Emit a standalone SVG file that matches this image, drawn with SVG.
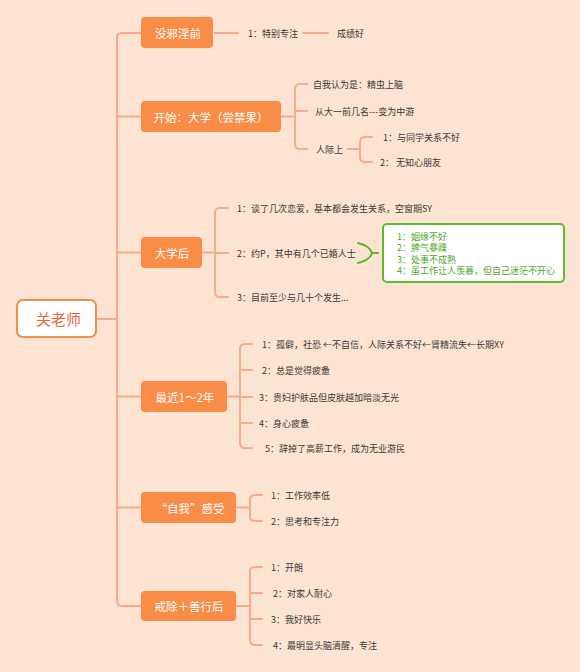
<svg xmlns="http://www.w3.org/2000/svg" width="580" height="672" viewBox="0 0 580 672">
<style>
.bg{fill:#FDE3D1}
.con{fill:none;stroke:#F5AC8C;stroke-width:2;stroke-linecap:round}
.br{fill:#F98C47}
.bt{fill:#fff;font-family:"Noto Sans CJK SC","Noto Sans",sans-serif;font-size:11.5px;text-anchor:middle;dominant-baseline:central}
.t{fill:#3a3a3a;font-family:"Noto Sans CJK SC","Noto Sans",sans-serif;font-size:9px;dominant-baseline:central}
.g{fill:#4FA82A;font-family:"Noto Sans CJK SC","Noto Sans",sans-serif;font-size:9px;dominant-baseline:central}
</style>
<rect class="bg" x="0" y="0" width="580" height="672"/>
<g id="connectors">
<path class="con" d="M96,319 H117"/>
<path class="con" d="M141,33 H122 Q117,33 117,38 V601 Q117,606 122,606 H141"/>
<path class="con" d="M117,116.5 H141 M117,252.5 H141 M117,396.5 H141 M117,507.5 H141"/>
<path class="con" d="M215,33 H238 M303,33 H328"/>
<path class="con" d="M281,116.5 H295 M307,84 H300 Q295,84 295,89 V144 Q295,149 300,149 H307 M295,111 H307"/>
<path class="con" d="M348,149 H360 M372,137 H365 Q360,137 360,142 V157 Q360,162 365,162 H372"/>
<path class="con" d="M202,252.5 H215 M228,208 H220 Q215,208 215,213 V292 Q215,297 220,297 H228 M215,253 H228"/>
<path class="con" d="M227,396.5 H240 M252,344 H245 Q240,344 240,349 V443 Q240,448 245,448 H252 M240,370 H252 M240,397 H252 M240,423 H252"/>
<path class="con" d="M236,507.5 H250 M262,495 H255 Q250,495 250,500 V516 Q250,521 255,521 H262"/>
<path class="con" d="M236,606 H250 M262,567 H255 Q250,567 250,572 V640 Q250,645 255,645 H262 M250,593 H262 M250,619 H262"/>
<path d="M358,243 Q370,246 372,253 Q370,260 358,263 M372,253 H378" fill="none" stroke="#5DB82C" stroke-width="2" stroke-linecap="round"/>
</g>
<g id="root">
<rect x="17" y="300" width="79" height="37" rx="6" fill="#fff" stroke="#F0904E" stroke-width="2"/>
<text x="58.5" y="318.5" fill="#E8683A" font-family="'Noto Sans CJK SC','Noto Sans',sans-serif" font-size="15" text-anchor="middle" dominant-baseline="central">关老师</text>
</g>
<g id="n1">
<rect class="br" x="141" y="17" width="72" height="31" rx="4"/>
<text class="bt" x="178" y="32.5">没邪淫前</text>
<text class="t" x="248" y="33">1：特别专注</text>
<text class="t" x="337" y="33">成绩好</text>
</g>
<g id="n2">
<rect class="br" x="141" y="101" width="140" height="31" rx="4"/>
<text class="bt" x="211" y="116.5">开始：大学（尝禁果）</text>
<text class="t" x="313" y="84">自我认为是：精虫上脑</text>
<text class="t" x="315" y="111">从大一前几名---变为中游</text>
<text class="t" x="316" y="149">人际上</text>
<text class="t" x="383" y="137">1：与同学关系不好</text>
<text class="t" x="380" y="162">2： 无知心朋友</text>
</g>
<g id="n3">
<rect class="br" x="141" y="237" width="61" height="31" rx="4"/>
<text class="bt" x="172" y="252.5">大学后</text>
<text class="t" x="237" y="208">1：谈了几次恋爱，基本都会发生关系，空窗期SY</text>
<text class="t" x="237" y="253">2：约P，其中有几个已婚人士</text>
<text class="t" x="237" y="297">3：目前至少与几十个发生...</text>
</g>
<g id="n3g">
<rect x="383" y="224" width="181" height="58" rx="4" fill="#fff" stroke="#5DBB2E" stroke-width="2"/>
<text class="g" x="397" y="236">1：姻缘不好</text>
<text class="g" x="397" y="247.5">2：脾气暴躁</text>
<text class="g" x="397" y="259">3：处事不成熟</text>
<text class="g" x="397" y="270.5">4：虽工作让人羡慕，但自己迷茫不开心</text>
</g>
<g id="n4">
<rect class="br" x="141" y="381" width="86" height="31" rx="4"/>
<text class="bt" x="185" y="396.5">最近1～2年</text>
<text class="t" x="262" y="344">1：孤僻，社恐 ←不自信，人际关系不好←肾精流失←长期XY</text>
<text class="t" x="262" y="370">2：总是觉得疲惫</text>
<text class="t" x="259" y="397">3：贵妇护肤品但皮肤越加暗淡无光</text>
<text class="t" x="259" y="423">4：身心疲惫</text>
<text class="t" x="265" y="448">5：辞掉了高薪工作，成为无业游民</text>
</g>
<g id="n5">
<rect class="br" x="141" y="492" width="95" height="31" rx="4"/>
<text class="bt" x="190" y="507.5">“自我”感受</text>
<text class="t" x="271" y="495">1：工作效率低</text>
<text class="t" x="271" y="521">2：思考和专注力</text>
</g>
<g id="n6">
<rect class="br" x="141" y="591" width="95" height="30" rx="4"/>
<text class="bt" x="189" y="606">戒除＋善行后</text>
<text class="t" x="271" y="567">1：开朗</text>
<text class="t" x="273" y="593">2：对家人耐心</text>
<text class="t" x="271" y="619">3：我好快乐</text>
<text class="t" x="273" y="645">4：最明显头脑清醒，专注</text>
</g>
</svg>
